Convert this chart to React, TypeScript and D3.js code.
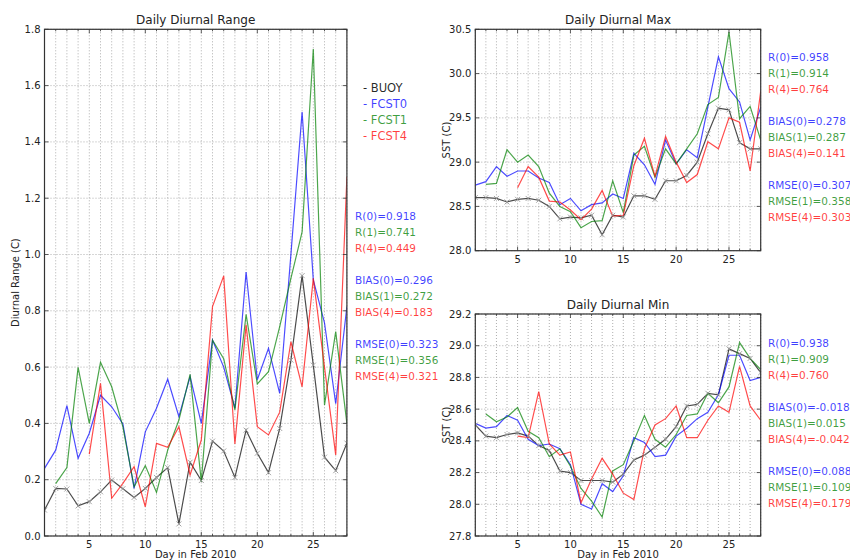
import React from "react";
import * as d3 from "d3";

const days = [1,2,3,4,5,6,7,8,9,10,11,12,13,14,15,16,17,18,19,20,21,22,23,24,25,26,27,28];
const xTicks = [5, 10, 15, 20, 25];

// Daily Diurnal Range
const rangeBuoy = [0.092,0.169,0.167,0.107,0.122,0.157,0.199,0.168,0.137,0.169,0.208,0.243,0.043,0.262,0.197,0.337,0.302,0.208,0.376,0.294,0.225,0.382,0.625,0.925,0.607,0.28,0.232,0.33];
const rangeF0 = [0.24,0.305,0.463,0.276,0.365,0.5,0.459,0.398,0.169,0.37,0.454,0.557,0.424,0.566,0.4,0.696,0.6,0.454,0.938,0.555,0.667,0.507,1.0,1.506,0.91,0.757,0.47,0.815];
const rangeF1 = [null,0.186,0.243,0.599,0.4,0.617,0.53,0.388,0.175,0.25,0.155,0.305,0.412,0.574,0.193,0.696,0.63,0.448,0.787,0.54,0.584,0.744,0.915,1.08,1.73,0.465,0.726,0.4];
const rangeF4 = [null,null,null,null,0.291,0.542,0.134,0.187,0.246,0.104,0.329,0.315,0.388,0.217,0.341,0.815,0.924,0.327,0.75,0.388,0.359,0.44,0.69,0.53,0.915,0.6,0.288,1.276];
const rangeYTicks = [0.0,0.2,0.4,0.6,0.8,1.0,1.2,1.4,1.6,1.8];
const rangeStats = [
  ["R(0)=0.918","R(1)=0.741","R(4)=0.449"],
  ["BIAS(0)=0.296","BIAS(1)=0.272","BIAS(4)=0.183"],
  ["RMSE(0)=0.323","RMSE(1)=0.356","RMSE(4)=0.321"],
];

// Daily Diurnal Max
const maxBuoy = [28.60,28.60,28.59,28.55,28.58,28.59,28.57,28.50,28.36,28.38,28.37,28.40,28.18,28.40,28.38,28.62,28.62,28.58,28.79,28.79,28.85,29.00,29.32,29.61,29.59,29.22,29.15,29.15];
const maxF0 = [28.74,28.78,28.95,28.84,28.90,28.90,28.82,28.77,28.52,28.59,28.45,28.52,28.54,28.64,28.59,29.10,28.97,28.75,29.25,28.98,29.14,29.05,29.62,30.19,29.83,29.68,29.25,29.62];
const maxF1 = [null,28.75,28.76,29.14,29.00,29.08,28.95,28.65,28.50,28.44,28.26,28.33,28.34,28.79,28.43,29.08,29.18,28.83,29.15,28.98,29.15,29.32,29.65,29.73,30.47,29.49,29.63,29.25];
const maxF4 = [null,null,null,null,28.71,28.95,28.83,28.56,28.55,28.46,28.35,28.47,28.68,28.39,28.40,28.96,29.27,28.84,29.29,29.00,28.77,28.86,29.23,29.15,29.50,29.45,28.90,29.80];
const maxYTicks = [28.0,28.5,29.0,29.5,30.0,30.5];
const maxStats = [
  ["R(0)=0.958","R(1)=0.914","R(4)=0.764"],
  ["BIAS(0)=0.278","BIAS(1)=0.287","BIAS(4)=0.141"],
  ["RMSE(0)=0.307","RMSE(1)=0.358","RMSE(4)=0.303"],
];

// Daily Diurnal Min
const minBuoy = [28.50,28.43,28.42,28.44,28.45,28.43,28.37,28.34,28.21,28.20,28.15,28.15,28.15,28.14,28.19,28.28,28.31,28.36,28.41,28.49,28.62,28.63,28.70,28.69,28.98,28.95,28.92,28.83];
const minF0 = [28.51,28.48,28.49,28.56,28.53,28.41,28.37,28.38,28.35,28.25,28.00,27.97,28.13,28.08,28.18,28.42,28.39,28.30,28.31,28.43,28.48,28.54,28.58,28.69,28.94,28.94,28.78,28.80];
const minF1 = [null,28.57,28.52,28.55,28.61,28.46,28.42,28.30,28.35,28.24,28.10,28.02,27.92,28.21,28.25,28.40,28.56,28.41,28.36,28.44,28.56,28.57,28.70,28.64,28.74,29.02,28.92,28.85];
const minF4 = [null,null,null,null,28.43,28.42,28.71,28.38,28.31,28.33,28.01,28.16,28.29,28.19,28.07,28.03,28.35,28.50,28.54,28.62,28.42,28.42,28.53,28.62,28.58,28.87,28.62,28.53];
const minYTicks = [27.8,28.0,28.2,28.4,28.6,28.8,29.0,29.2];
const minStats = [
  ["R(0)=0.938","R(1)=0.909","R(4)=0.760"],
  ["BIAS(0)=-0.018","BIAS(1)=0.015","BIAS(4)=-0.042"],
  ["RMSE(0)=0.088","RMSE(1)=0.109","RMSE(4)=0.179"],
];

const seriesNames = ["BUOY", "FCST0", "FCST1", "FCST4"];
const seriesColors = ["#000000", "#0000ff", "#008000", "#ff0000"];
const statColors = ["#0000ff", "#008000", "#ff0000"];

const FONT = "DejaVu Sans, sans-serif";

type PanelProps = {
  id: string;
  left: number; right: number; top: number; bottom: number;
  yDomain: [number, number];
  yTicks: number[];
  yFmt: (v: number) => string;
  series: (number | null)[][];
  title: string;
  ylabel: string;
  xlabel?: string;
  stats: string[][];
  statX: number;
  statY: number;
};

function Panel(p: PanelProps) {
  const x = d3.scaleLinear().domain([1, 28]).range([p.left, p.right]);
  const y = d3.scaleLinear().domain(p.yDomain).range([p.bottom, p.top]);
  const line = d3
    .line<[number, number | null]>()
    .defined((d) => d[1] !== null)
    .x((d) => x(d[0]))
    .y((d) => y(d[1] as number));
  const midX = (p.left + p.right) / 2;
  const midY = (p.top + p.bottom) / 2;
  return (
    <g>
      <defs>
        <clipPath id={p.id}>
          <rect x={p.left} y={p.top} width={p.right - p.left} height={p.bottom - p.top} />
        </clipPath>
      </defs>
      {/* grid */}
      {days.map((d) => (
        <line key={"vg" + d} x1={x(d)} x2={x(d)} y1={p.top} y2={p.bottom}
          stroke="#999" strokeWidth={0.8} strokeDasharray="1,2" />
      ))}
      {p.yTicks.map((t) => (
        <line key={"hg" + t} x1={p.left} x2={p.right} y1={y(t)} y2={y(t)}
          stroke="#999" strokeWidth={0.8} strokeDasharray="1,2" />
      ))}
      {/* lines */}
      <g clipPath={`url(#${p.id})`}>
        {p.series.map((s, i) => (
          <path key={"s" + i}
            d={line(days.map((d, j) => [d, s[j]] as [number, number | null])) || ""}
            fill="none" stroke={seriesColors[i]} strokeOpacity={0.7} strokeWidth={1.2} />
        ))}
        {days.map((d, j) => {
          const cx = x(d), cy = y(p.series[0][j] as number), r = 2.5;
          return (
            <path key={"m" + d}
              d={`M${cx - r},${cy - r}L${cx + r},${cy + r}M${cx - r},${cy + r}L${cx + r},${cy - r}`}
              stroke="#999" strokeWidth={0.9} fill="none" />
          );
        })}
      </g>
      {/* ticks */}
      {days.map((d) => {
        const major = xTicks.includes(d);
        const len = major ? 4 : 2;
        return (
          <g key={"xt" + d}>
            <line x1={x(d)} x2={x(d)} y1={p.bottom} y2={p.bottom - len} stroke="#333" strokeWidth={0.8} />
            <line x1={x(d)} x2={x(d)} y1={p.top} y2={p.top + len} stroke="#333" strokeWidth={0.8} />
          </g>
        );
      })}
      {p.yTicks.map((t) => (
        <g key={"yt" + t}>
          <line x1={p.left} x2={p.left + 4} y1={y(t)} y2={y(t)} stroke="#333" strokeWidth={0.8} />
          <line x1={p.right} x2={p.right - 4} y1={y(t)} y2={y(t)} stroke="#333" strokeWidth={0.8} />
          <text x={p.left - 4} y={y(t)} dy="0.35em" textAnchor="end" fontSize={10} fill="#222">
            {p.yFmt(t)}
          </text>
        </g>
      ))}
      {xTicks.map((t) => (
        <text key={"xl" + t} x={x(t)} y={p.bottom + 12} textAnchor="middle" fontSize={10} fill="#222">
          {t}
        </text>
      ))}
      {/* frame */}
      <rect x={p.left} y={p.top} width={p.right - p.left} height={p.bottom - p.top}
        fill="none" stroke="#333" strokeWidth={1.2} />
      {/* title and labels */}
      <text x={midX} y={p.top - 5} textAnchor="middle" fontSize={12} fill="#222">{p.title}</text>
      <text transform={`translate(${p.left - 29},${midY}) rotate(-90)`} textAnchor="middle"
        dy="0.35em" fontSize={10} fill="#222">{p.ylabel}</text>
      {p.xlabel && (
        <text x={midX} y={p.bottom + 22} textAnchor="middle" fontSize={10} fill="#222">{p.xlabel}</text>
      )}
      {/* stats */}
      {p.stats.map((grp, gi) =>
        grp.map((s, si) => (
          <text key={"st" + gi + si} x={p.statX} y={p.statY + gi * 64 + si * 16} dy="0.35em"
            fontSize={10.5} fill={statColors[si]} fillOpacity={0.75}>{s}</text>
        ))
      )}
    </g>
  );
}

export default function App() {
  const fmt1 = d3.format(".1f");
  return (
    <svg width={850} height={560} style={{ position: "absolute", left: 0, top: 0, background: "#fff" }}
      fontFamily={FONT}>
      <rect x={0} y={0} width={850} height={560} fill="#fff" />
      <Panel id="c1" left={44.5} right={346.9} top={29.3} bottom={536}
        yDomain={[0, 1.8]} yTicks={rangeYTicks} yFmt={fmt1}
        series={[rangeBuoy, rangeF0, rangeF1, rangeF4]}
        title="Daily Diurnal Range" ylabel="Diurnal Range (C)" xlabel="Day in Feb 2010"
        stats={rangeStats} statX={355} statY={216} />
      <Panel id="c2" left={475.3} right={760.7} top={29.3} bottom={250.7}
        yDomain={[28, 30.5]} yTicks={maxYTicks} yFmt={fmt1}
        series={[maxBuoy, maxF0, maxF1, maxF4]}
        title="Daily Diurnal Max" ylabel="SST (C)"
        stats={maxStats} statX={768} statY={57} />
      <Panel id="c3" left={475.3} right={760.7} top={314} bottom={536}
        yDomain={[27.8, 29.2]} yTicks={minYTicks} yFmt={fmt1}
        series={[minBuoy, minF0, minF1, minF4]}
        title="Daily Diurnal Min" ylabel="SST (C)" xlabel="Day in Feb 2010"
        stats={minStats} statX={768} statY={343} />
      {seriesNames.map((n, i) => (
        <text key={n} x={363} y={88 + i * 16} dy="0.35em" fontSize={11.5}
          fill={seriesColors[i]} fillOpacity={i === 0 ? 0.85 : 0.75}>{"- " + n}</text>
      ))}
    </svg>
  );
}
